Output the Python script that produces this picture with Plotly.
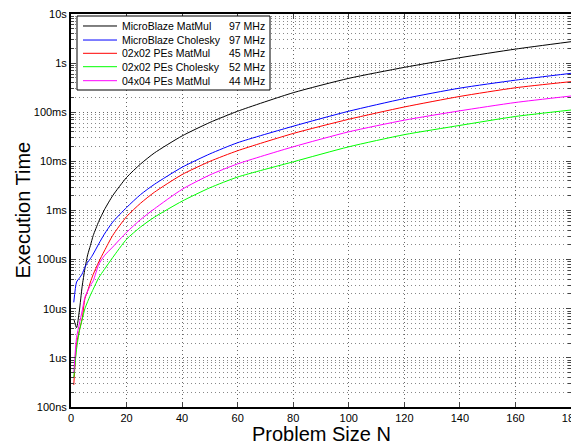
import plotly.graph_objects as go

# Problem size N
N = [1, 2, 3, 4, 5, 6, 7, 8, 10, 12, 15, 20, 25, 30, 40, 50, 60, 80, 100, 120, 140, 160, 180]

# Execution time in seconds
mb_matmul = [6.2e-6, 4.1e-6, 9e-6, 2.8e-5, 6.5e-5, 1.25e-4, 1.95e-4, 3.1e-4, 6.0e-4, 1.03e-3,
             2.0e-3, 4.7e-3, 8.8e-3, 1.48e-2, 3.3e-2, 6.2e-2, 0.105, 0.25, 0.49, 0.82, 1.29, 1.93, 2.73]
mb_chol = [1.35e-5, 3.5e-5, 4.2e-5, 5.1e-5, 7.0e-5, 8.8e-5, 1.05e-4, 1.3e-4, 2.1e-4, 3.3e-4,
           5.8e-4, 1.15e-3, 2.1e-3, 3.4e-3, 7.6e-3, 1.42e-2, 2.4e-2, 5.2e-2, 0.105, 0.19, 0.31, 0.45, 0.62]
pe22_matmul = [2.8e-7, 1.9e-6, 3.6e-6, 6.2e-6, 1.6e-5, 2.3e-5, 3.5e-5, 5.0e-5, 9.0e-5, 1.5e-4,
               3.1e-4, 7.5e-4, 1.4e-3, 2.35e-3, 5.4e-3, 1.0e-2, 1.65e-2, 3.7e-2, 7.2e-2, 0.128, 0.21, 0.315, 0.42]
pe22_chol = [4e-7, 1.5e-6, 3.5e-6, 6e-6, 1.0e-5, 1.4e-5, 1.9e-5, 2.5e-5, 4.3e-5, 6.3e-5,
             1.1e-4, 2.6e-4, 4.6e-4, 7.3e-4, 1.55e-3, 2.9e-3, 4.8e-3, 9.8e-3, 1.98e-2, 3.5e-2, 5.4e-2, 8.2e-2, 0.111]
pe44_matmul = [5e-7, 2.6e-6, 4.9e-6, 9e-6, 1.7e-5, 2.3e-5, 3.0e-5, 3.7e-5, 8e-5, 1.2e-4,
               1.8e-4, 3.6e-4, 6.5e-4, 1.08e-3, 2.7e-3, 5.3e-3, 8.9e-3, 1.98e-2, 4.0e-2, 6.9e-2, 0.107, 0.158, 0.214]

series_names = ["MicroBlaze MatMul", "MicroBlaze Cholesky", "02x02 PEs MatMul",
                "02x02 PEs Cholesky", "04x04 PEs MatMul"]
clock_labels = ["97 MHz", "97 MHz", "45 MHz", "52 MHz", "44 MHz"]
series = [mb_matmul, mb_chol, pe22_matmul, pe22_chol, pe44_matmul]
colors = ["#000000", "#0000ff", "#ff0000", "#00ff00", "#ff00ff"]

ytick_vals = [1e-7, 1e-6, 1e-5, 1e-4, 1e-3, 1e-2, 1e-1, 1, 10]
ytick_text = ["100ns", "1us", "10us", "100us", "1ms", "10ms", "100ms", "1s", "10s"]
xtick_vals = [0, 20, 40, 60, 80, 100, 120, 140, 160, 180]

fig = go.Figure()
for name, clk, ys, col in zip(series_names, clock_labels, series, colors):
    fig.add_trace(go.Scatter(x=N, y=ys, mode="lines", name=name + " " + clk, showlegend=False,
                             line=dict(color=col, width=1, shape="spline", smoothing=0.6)))

minor_vals = [m * 10 ** e for e in range(-7, 1) for m in range(2, 10)]
FONT = "Liberation Sans, Arial, Helvetica, sans-serif"
DOT = "1px,3px"

# ---- hand-built legend box (layout only) ----
shapes = [dict(type="rect", xref="paper", yref="paper", x0=0.012, x1=0.398, y0=0.8066, y1=0.9949,
               line=dict(color="black", width=1), fillcolor="white", layer="above")]
annotations = []
row_y = [0.9695, 0.9338, 0.9000, 0.8659, 0.8303]
for ry, name, clk, col in zip(row_y, series_names, clock_labels, colors):
    shapes.append(dict(type="line", xref="paper", yref="paper", x0=0.024, x1=0.092, y0=ry, y1=ry,
                       line=dict(color=col, width=1), layer="above"))
    annotations.append(dict(text=name, xref="paper", yref="paper", x=0.098, y=ry,
                            xanchor="left", yanchor="middle", showarrow=False,
                            font=dict(size=10.5, family=FONT, color="black")))
    annotations.append(dict(text=clk, xref="paper", yref="paper", x=0.392, y=ry,
                            xanchor="right", yanchor="middle", showarrow=False,
                            font=dict(size=10.5, family=FONT, color="black")))

annotations += [
    dict(text="Problem Size N", xref="paper", yref="paper", x=0.5, y=0,
         xanchor="center", yanchor="middle", yshift=-27, showarrow=False,
         font=dict(size=20, family=FONT)),
    dict(text="Execution Time", xref="paper", yref="paper", x=0, y=0.5,
         xanchor="center", yanchor="middle", xshift=-49, textangle=-90,
         showarrow=False, font=dict(size=20, family=FONT)),
]

# the page body adds an 8px offset, so the figure is 8px smaller with 8px less left/top margin
fig.update_layout(
    width=571, height=436,
    margin=dict(l=63, r=8, t=6, b=37, autoexpand=False),
    paper_bgcolor="white", plot_bgcolor="white",
    font=dict(family=FONT, color="black", size=11),
    showlegend=False,
    xaxis=dict(range=[0, 180], tickvals=xtick_vals, ticks="inside", ticklen=5,
               showline=True, linecolor="black", linewidth=2, mirror="allticks",
               showgrid=True, gridcolor="#666666", griddash=DOT, gridwidth=1,
               zeroline=False, tickfont=dict(size=11), automargin=False,
               ticklabeloverflow="allow"),
    yaxis=dict(type="log", range=[-7, 1], tickvals=ytick_vals, ticktext=ytick_text,
               ticks="inside", ticklen=5,
               showline=True, linecolor="black", linewidth=2, mirror="allticks",
               showgrid=True, gridcolor="#666666", griddash=DOT, gridwidth=1,
               zeroline=False, tickfont=dict(size=11), automargin=False,
               ticklabeloverflow="allow",
               minor=dict(tickvals=minor_vals, ticks="inside", ticklen=3,
                          showgrid=True, gridcolor="#888888", griddash=DOT, gridwidth=1)),
    shapes=shapes,
    annotations=annotations,
)

fig.write_html("out.html")
